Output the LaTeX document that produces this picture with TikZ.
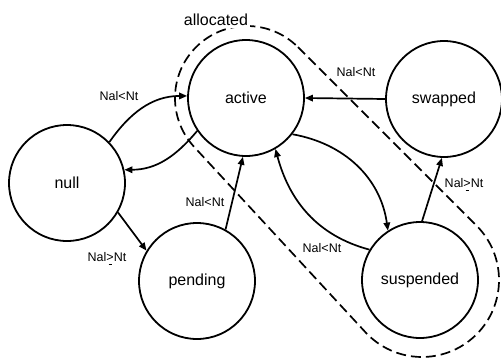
\documentclass[tikz,border=0pt]{standalone}
\usepackage{fontspec}
\setmainfont{Liberation Sans}
\usetikzlibrary{arrows.meta}
% "greater than or equal" written as > with a short bar beneath
\newcommand{\gebar}{\ooalign{>\cr\hidewidth\raisebox{-3.2pt}{\rule{3.2pt}{1.5pt}}\hidewidth\cr}}
\begin{document}
\begin{tikzpicture}[x=1pt,y=1pt,
  state/.style={circle,draw,line width=1.8pt,minimum size=116pt,inner sep=0pt,
    font=\fontsize{16}{18}\selectfont},
  trans/.style={line width=1.7pt,-{Triangle[length=8pt,width=6.5pt]}},
  lbl/.style={font=\fontsize{12.5}{14}\selectfont,inner sep=1pt},
  region/.style={line width=1.7pt,dash pattern=on 10pt off 5pt},
  regionlabel/.style={font=\fontsize{16}{18}\selectfont,fill=white,inner sep=2pt}]
\useasboundingbox (0,0) rectangle (501,-359);

% states
\node[state] (active)    at (246,-98)  {active};
\node[state] (null)      at (67,-183)  {null};
\node[state] (pending)   at (197,-281) {pending};
\node[state] (swapped)   at (444,-99)  {swapped};
\node[state] (suspended) at (420,-280) {suspended};

% dashed "allocated" region: hull of two circles round active and suspended
\coordinate (allocA) at (247,-98);
\coordinate (allocS) at (422,-280);
\draw[region] ([shift={(45:72)}]allocA) -- ([shift={(45:77)}]allocS)
  arc[start angle=45,end angle=-137.26,radius=77]
  -- ([shift={(222.74:72)}]allocA)
  arc[start angle=222.74,end angle=45,radius=72] -- cycle;
\node[regionlabel] (allocated) at (216,-20) {allocated};

% transitions
\draw[trans] (null.44) to[out=55,in=180] (active.178);
\draw[trans] (active.214) to[out=230,in=0] (null.13);
\draw[trans] (null.-30) -- (pending.149);
\draw[trans] (pending.61) -- (active.267);
\draw[trans] (swapped.west) -- (active.east);
\draw[trans] (active.-38) to[out=-10,in=98] (suspended.123);
\draw[trans] (suspended.149) to[out=165,in=-75] (active.-60);
\draw[trans] (suspended.88) -- (swapped.268);

% transition conditions
\node[lbl] (c1) at (119,-96)  {Nal<Nt};
\node[lbl] (c2) at (107,-259) {Nal\gebar Nt};
\node[lbl] (c3) at (205,-202) {Nal<Nt};
\node[lbl] (c4) at (356,-72)  {Nal<Nt};
\node[lbl] (c5) at (322,-248) {Nal<Nt};
\node[lbl] (c6) at (464,-185) {Nal\gebar Nt};
\end{tikzpicture}
\end{document}
